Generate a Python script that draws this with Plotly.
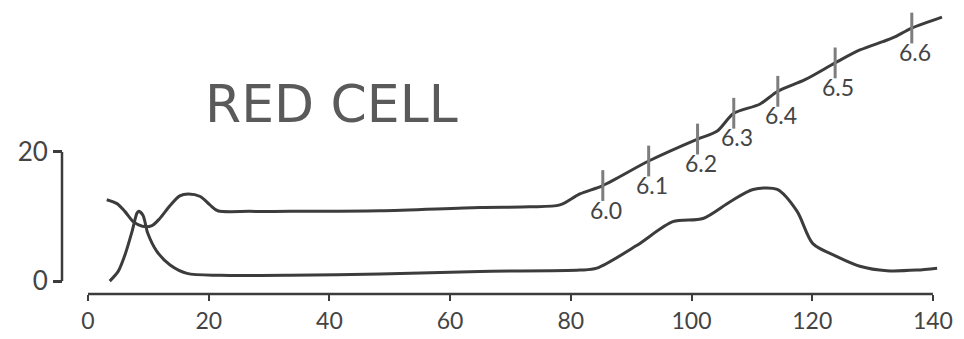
import plotly.graph_objects as go

# Upper trace (rises from ~80 onward, carries the pH scale)
upper_x = [3.1, 4.8, 6.1, 7.5, 9.0, 10.6, 11.9, 13.6, 15.2, 16.6, 18.6, 20.2, 21.5,
           26.8, 33.5, 48.4, 64.9, 73.2, 78.2, 81.5, 85.3, 92.9, 101.0, 104.2, 107.0,
           111.3, 114.3, 118.8, 123.8, 127.9, 131.7, 133.4, 136.5, 141.5]
upper_y = [12.6, 12.0, 10.8, 9.2, 8.5, 8.6, 9.7, 11.7, 13.2, 13.5, 13.1, 11.8, 10.9,
           10.8, 10.8, 10.9, 11.4, 11.5, 11.8, 13.5, 14.8, 18.6, 22.0, 23.2, 26.0,
           27.4, 29.4, 31.2, 33.8, 35.8, 37.1, 37.7, 39.2, 40.9]

# Lower trace (early peak near 8, broad double hump 95-115)
lower_x = [3.6, 5.0, 6.1, 7.3, 8.1, 8.4, 9.1, 9.9, 11.4, 13.6, 16.4, 21.9, 33.5,
           48.4, 64.9, 81.5, 84.3, 90.9, 96.9, 101.9, 106.4, 110.2, 114.2, 117.5,
           120.1, 124.1, 127.9, 132.4, 137.3, 140.7]
lower_y = [0.0, 1.5, 4.0, 7.7, 10.5, 10.8, 10.2, 7.4, 4.6, 2.5, 1.2, 0.9, 0.9,
           1.1, 1.5, 1.7, 2.0, 5.5, 9.2, 9.7, 12.3, 14.2, 14.2, 10.8,
           5.8, 3.8, 2.3, 1.6, 1.7, 2.0]

# pH marks along the upper trace
ph_x = [85.3, 92.9, 101.0, 107.0, 114.3, 123.8, 136.5]
ph_y = [14.8, 18.6, 22.0, 26.0, 29.4, 33.8, 39.2]
ph_labels = ["6.0", "6.1", "6.2", "6.3", "6.4", "6.5", "6.6"]

x_ticks = [0, 20, 40, 60, 80, 100, 120, 140]
y_ticks = [0, 20]

ink = "#3c3c3c"
hand_font = "Lato"

fig = go.Figure()
fig.add_trace(go.Scatter(x=upper_x, y=upper_y, mode="lines",
                         line=dict(color=ink, width=3, shape="spline", smoothing=0.8),
                         hoverinfo="skip", showlegend=False))
fig.add_trace(go.Scatter(x=lower_x, y=lower_y, mode="lines",
                         line=dict(color=ink, width=3, shape="spline", smoothing=0.8),
                         hoverinfo="skip", showlegend=False))
fig.add_trace(go.Scatter(x=ph_x, y=ph_y, mode="markers",
                         marker=dict(symbol="line-ns", size=22,
                                     line=dict(color="#7d7d7d", width=3)),
                         hoverinfo="skip", showlegend=False))

for xv, yv, lab in zip(ph_x, ph_y, ph_labels):
    fig.add_annotation(x=xv, y=yv, text=lab, showarrow=False, xshift=3, yshift=-24,
                       font=dict(family=hand_font, size=23, color="#444"))

fig.add_annotation(x=40.4, y=27.5, text="RED CELL", showarrow=False,
                   font=dict(family="DejaVu Sans", size=52, color="#5a5a5a"))

# Y bracket from 0 to 20 and x baseline from 0 to 140
y_pos = 0.04526
fig.add_shape(type="line", xref="paper", yref="y", x0=y_pos, x1=y_pos, y0=0, y1=20,
              line=dict(color=ink, width=2.5))
fig.add_shape(type="line", xref="x", yref="paper", x0=0, x1=140, y0=0, y1=0,
              line=dict(color=ink, width=2.5))

fig.update_layout(
    width=964, height=339,
    margin=dict(l=20, r=16, t=5, b=43),
    paper_bgcolor="white", plot_bgcolor="white",
    xaxis=dict(domain=[0.0733, 1], range=[0, 142.5], tickvals=x_ticks,
               ticks="outside", ticklen=6, tickwidth=2, tickcolor=ink,
               showline=False, showgrid=False, zeroline=False,
               tickfont=dict(family=hand_font, size=23, color="#444")),
    yaxis=dict(range=[-2.0, 42.77], tickvals=y_ticks, anchor="free", position=y_pos,
               ticks="outside", ticklen=9, tickwidth=2.5, tickcolor=ink,
               showline=False, showgrid=False, zeroline=False,
               tickfont=dict(family=hand_font, size=26, color="#444")),
)

fig.write_html("out.html")
